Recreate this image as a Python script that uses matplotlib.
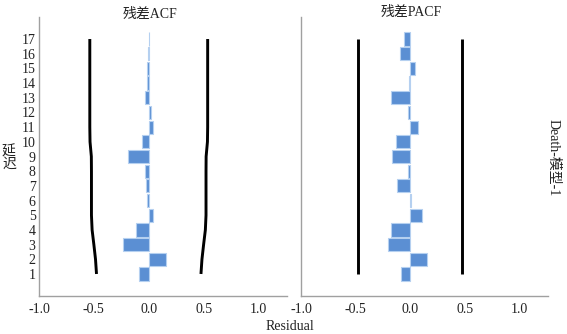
import matplotlib
matplotlib.use("Agg")
import matplotlib.pyplot as plt

lags = list(range(1, 18))
acf = [-0.085, 0.16, -0.23, -0.12, 0.043, -0.014, -0.025, -0.036, -0.19, -0.065,
       0.04, 0.025, -0.03, -0.02, -0.012, -0.005, 0.004]
acf_limit = [0.476, 0.485, 0.500, 0.516, 0.522, 0.522, 0.522, 0.522, 0.523, 0.535,
             0.537, 0.537, 0.537, 0.537, 0.537, 0.537, 0.537]
pacf = [-0.085, 0.155, -0.205, -0.178, 0.105, 0.005, -0.125, -0.024, -0.168, -0.135,
        0.072, -0.02, -0.177, -0.012, 0.042, -0.092, -0.057]
pacf_limit = [0.476] * 17
xticks = [-1.0, -0.5, 0.0, 0.5, 1.0]
xticklabels = ["-1.0", "-0.5", "0.0", "0.5", "1.0"]

serif = ["Liberation Serif", "Noto Sans CJK SC"]
bar_color = "#5b8fd3"
edge_color = "#b5d0f0"
spine_color = "#a0a0a0"
text_color = "#222222"
fs = 10

fig = plt.figure(figsize=(5.67, 3.34), dpi=100)
ax1 = fig.add_axes([39 / 567, 38 / 334, 248 / 567, 279 / 334])
ax2 = fig.add_axes([301 / 567, 38 / 334, 247 / 567, 279 / 334])

for ax, vals, lim in [(ax1, acf, acf_limit), (ax2, pacf, pacf_limit)]:
    ax.barh(lags, vals, height=0.9, color=bar_color, edgecolor=edge_color, linewidth=0.8, zorder=2)
    ax.plot([-v for v in lim], lags, color="black", linewidth=2.1, zorder=3, solid_capstyle="butt")
    ax.plot(lim, lags, color="black", linewidth=2.1, zorder=3, solid_capstyle="butt")
    ax.set_xlim(-1.0, 1.26)
    ax.set_ylim(-0.5, 18.5)
    ax.set_xticks(xticks)
    ax.set_xticklabels(xticklabels, fontfamily=serif, fontsize=fs, color=text_color)
    for s in ["top", "right"]:
        ax.spines[s].set_visible(False)
    for s in ["left", "bottom"]:
        ax.spines[s].set_color(spine_color)
        ax.spines[s].set_linewidth(1.0)
    ax.tick_params(length=0, pad=5)

ax1.set_yticks(lags)
ax1.set_yticklabels([str(l) for l in lags], fontfamily=serif, fontsize=fs, color=text_color)
ax1.tick_params(axis="y", pad=2.5)
ax2.set_yticks([])

fig.text(150 / 567, 1 - 14 / 334, "残差ACF", fontfamily=serif, fontsize=fs,
         ha="center", va="center", color=text_color)
fig.text(411 / 567, 1 - 12 / 334, "残差PACF", fontfamily=serif, fontsize=fs,
         ha="center", va="center", color=text_color)
fig.text(9 / 567, 1 - 158 / 334, "延\n迟", fontfamily=serif, fontsize=fs,
         ha="center", va="center", linespacing=1.0, color=text_color)
fig.text(553 / 567, 1 - 158 / 334, "Death-模型-1", fontfamily=serif, fontsize=fs,
         rotation=-90, ha="center", va="center", color=text_color)
fig.text(290 / 567, 1 - 326 / 334, "Residual", fontfamily=serif, fontsize=fs,
         ha="center", va="center", color=text_color)

fig.savefig("out.png", dpi=100)
